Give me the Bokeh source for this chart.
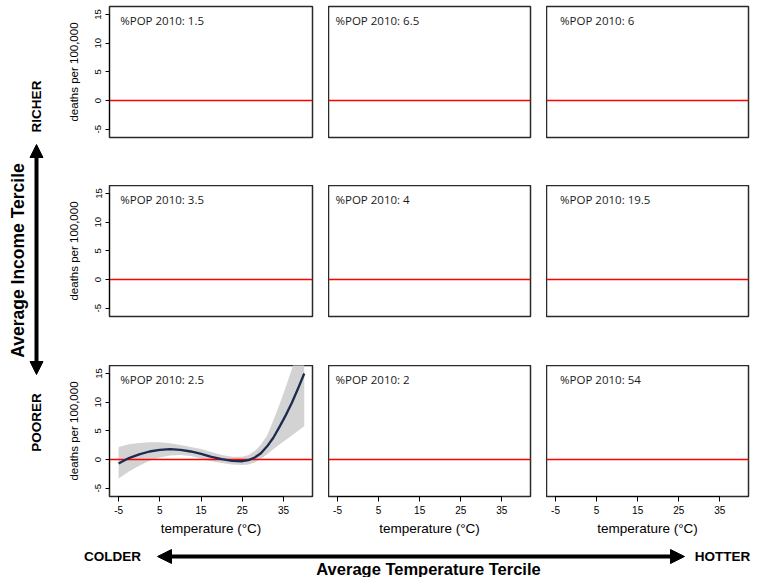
import math
from bokeh.plotting import figure
from bokeh.models import Range1d, FixedTicker, Label, Arrow, NormalHead
from bokeh.layouts import row, column
from bokeh.embed import file_html
from bokeh.resources import INLINE

# ---------------- data ----------------
INCOME_TERCILES = ["RICHER", "MIDDLE", "POORER"]
TEMP_TERCILES = ["COLDER", "MIDDLE", "HOTTER"]
POP_SHARE_RICHER = [1.5, 6.5, 6]
POP_SHARE_MIDDLE = [3.5, 4, 19.5]
POP_SHARE_POORER = [2.5, 2, 54]
X_TICKS = [-5, 5, 15, 25, 35]
Y_TICKS = [-5, 0, 5, 10, 15]
X_TICK_LABELS = ["-5", "5", "15", "25", "35"]
Y_TICK_LABELS = ["-5", "0", "5", "10", "15"]

# fitted response (poorer / colder panel only)
TEMP = [-5, -2.5, 0, 2.5, 5, 7.5, 10, 12.5, 15, 17.5, 20, 22.5, 25, 26.5, 28, 29.5,
        31, 32.5, 34, 35.5, 37, 38.5, 40]
FIT = [-0.7, 0.25, 0.9, 1.4, 1.7, 1.8, 1.7, 1.4, 1.0, 0.45, 0.05, -0.25, -0.3, -0.1, 0.35,
       1.1, 2.3, 3.8, 5.7, 7.7, 9.9, 12.4, 15.0]
UPPER = [2.2, 2.65, 2.9, 3.0, 3.0, 2.85, 2.55, 2.2, 1.85, 1.3, 0.8, 0.5, 0.5, 0.8, 1.5,
         2.6, 4.2, 6.8, 9.6, 12.6, 15.8, 19.5, 24.0]
LOWER = [-3.3, -2.1, -1.1, -0.2, 0.35, 0.7, 0.8, 0.6, 0.2, -0.3, -0.6, -0.85, -0.95, -0.85,
         -0.5, 0.1, 0.9, 1.8, 2.6, 3.4, 4.2, 5.0, 5.8]

X_RANGE = (-7.2, 42.0)
Y_RANGE = (-6.45, 16.4)
ZERO = 0

POP_SHARES = [POP_SHARE_RICHER, POP_SHARE_MIDDLE, POP_SHARE_POORER]
LABEL_X = [-4.6, -5.5, -3.9]
LABEL_Y = 13.9

FONT = "Liberation Sans"

BORDER_TOP = [6, 0, 0]
BORDER_BOTTOM = [48, 49, 37]
BORDER_LEFT = [44, 0, 0]
BORDER_RIGHT = [16, 16, 4]
FRAME_W = [203, 202, 202]


def make_panel(r, c, share):
    left = c == 0
    bottom = r == 2
    p = figure(frame_width=FRAME_W[c], frame_height=131,
               x_range=Range1d(*X_RANGE), y_range=Range1d(*Y_RANGE),
               x_axis_location="below" if bottom else None,
               y_axis_location="left" if left else None,
               toolbar_location=None, output_backend="svg",
               min_border_left=BORDER_LEFT[c],
               min_border_right=BORDER_RIGHT[c],
               min_border_top=BORDER_TOP[r],
               min_border_bottom=BORDER_BOTTOM[r],
               background_fill_color="white", border_fill_color="white")
    p.grid.visible = False
    p.outline_line_color = "#2a2a2a"
    p.outline_line_width = 1.5
    p.outline_line_alpha = 1.0

    if left:
        ax = p.yaxis[0]
        ax.ticker = FixedTicker(ticks=Y_TICKS)
        ax.major_label_overrides = dict(zip(Y_TICKS, Y_TICK_LABELS))
        ax.bounds = (Y_TICKS[0], Y_TICKS[-1])
        ax.major_tick_out = 4
        ax.major_tick_in = 0
        ax.minor_tick_line_color = None
        ax.axis_line_color = "black"
        ax.major_tick_line_color = "black"
        ax.major_label_text_font = FONT
        ax.major_label_text_font_size = "9.5px"
        ax.major_label_text_color = "black"
        ax.major_label_orientation = "vertical"
        ax.major_label_standoff = 4
        ax.axis_label = "deaths per 100,000"
        ax.axis_label_text_font = FONT
        ax.axis_label_text_font_style = "normal"
        ax.axis_label_text_font_size = "11.5px"
        ax.axis_label_text_color = "black"
        ax.axis_label_standoff = 13
    if bottom:
        ax = p.xaxis[0]
        ax.ticker = FixedTicker(ticks=X_TICKS)
        ax.major_label_overrides = dict(zip(X_TICKS, X_TICK_LABELS))
        ax.bounds = (X_TICKS[0], X_TICKS[-1])
        ax.major_tick_out = 5
        ax.major_tick_in = 0
        ax.minor_tick_line_color = None
        ax.axis_line_color = "black"
        ax.major_tick_line_color = "black"
        ax.major_label_text_font = FONT
        ax.major_label_text_font_size = "10px"
        ax.major_label_text_color = "black"
        ax.major_label_standoff = 4
        ax.axis_label = "temperature (\u00b0C)"
        ax.axis_label_text_font = FONT
        ax.axis_label_text_font_style = "normal"
        ax.axis_label_text_font_size = "13.5px"
        ax.axis_label_text_color = "black"
        ax.axis_label_standoff = 4

    has_fit = (r == 2 and c == 0)
    if has_fit:
        p.varea(x=TEMP, y1=LOWER, y2=UPPER, fill_color="#d3d3d3", fill_alpha=1.0)
    p.line(x=list(X_RANGE), y=[ZERO, ZERO], line_color="#ff0000", line_width=1.3)
    if has_fit:
        p.line(x=TEMP, y=FIT, line_color="#1c2b4f", line_width=2.3, line_join="round")

    p.add_layout(Label(x=LABEL_X[c], y=LABEL_Y, text=f"%POP 2010: {share:g}",
                       text_font="Open Sans", text_font_size="11.5px",
                       text_color="#1a1a1a", text_baseline="middle",
                       text_align="left"))
    return p


rows = []
for r in range(3):
    rows.append(row(*[make_panel(r, c, POP_SHARES[r][c]) for c in range(3)], spacing=0))
grid = column(*rows, spacing=0)

# ---- left strip (income arrow) ----
SH = 533
strip = figure(width=64, height=SH, x_range=Range1d(0, 64), y_range=Range1d(0, SH),
               x_axis_location=None, y_axis_location=None, toolbar_location=None,
               output_backend="svg", min_border=0, outline_line_color=None,
               background_fill_color="white", border_fill_color="white")
strip.grid.visible = False
strip.add_layout(Label(x=17.5, y=SH - 260, text="Average Income Tercile", angle=math.pi / 2,
                       text_font=FONT, text_font_style="bold", text_font_size="17.5px",
                       text_align="center", text_baseline="middle", text_color="black"))
strip.add_layout(Label(x=36, y=SH - 106, text=INCOME_TERCILES[0], angle=math.pi / 2,
                       text_font=FONT, text_font_style="bold", text_font_size="13.5px",
                       text_align="center", text_baseline="middle", text_color="black"))
strip.add_layout(Label(x=36, y=SH - 422, text=INCOME_TERCILES[2], angle=math.pi / 2,
                       text_font=FONT, text_font_style="bold", text_font_size="13.5px",
                       text_align="center", text_baseline="middle", text_color="black"))
strip.add_layout(Arrow(start=NormalHead(size=13, fill_color="black", line_color="black"),
                       end=NormalHead(size=13, fill_color="black", line_color="black"),
                       x_start=36, y_start=SH - 144, x_end=36, y_end=SH - 374,
                       line_width=4, line_color="black"))

top = row(strip, grid, spacing=0)

# ---- bottom strip (temperature arrow) ----
BH = 39
bot = figure(width=751, height=BH, x_range=Range1d(0, 751), y_range=Range1d(0, BH),
             x_axis_location=None, y_axis_location=None, toolbar_location=None,
             output_backend="svg", min_border=0, outline_line_color=None,
             background_fill_color="white", border_fill_color="white")
bot.grid.visible = False
bot.add_layout(Label(x=112, y=21, text=TEMP_TERCILES[0], text_font=FONT, text_font_style="bold",
                     text_font_size="13.5px", text_align="center", text_baseline="middle",
                     text_color="black"))
bot.add_layout(Label(x=722, y=21, text=TEMP_TERCILES[2], text_font=FONT, text_font_style="bold",
                     text_font_size="13.5px", text_align="center", text_baseline="middle",
                     text_color="black"))
bot.add_layout(Arrow(start=NormalHead(size=14, fill_color="black", line_color="black"),
                     end=NormalHead(size=14, fill_color="black", line_color="black"),
                     x_start=157, y_start=21, x_end=684, y_end=21,
                     line_width=4, line_color="black"))
bot.add_layout(Label(x=428, y=9, text="Average Temperature Tercile", text_font=FONT,
                     text_font_style="bold", text_font_size="16.5px", text_align="center",
                     text_baseline="middle", text_color="black"))

layout = column(top, bot, spacing=0)

open("out.html", "w").write(file_html(layout, INLINE))
